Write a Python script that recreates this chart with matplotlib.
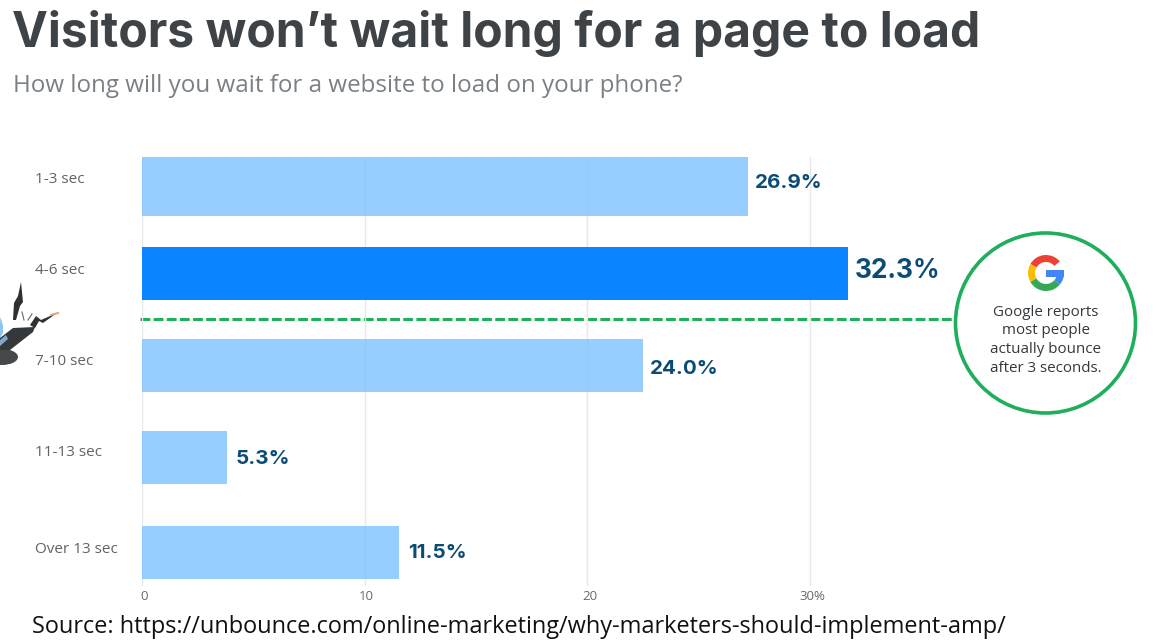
import matplotlib
matplotlib.use('Agg')
import matplotlib.pyplot as plt
from matplotlib.patches import Wedge, Polygon, Rectangle, Ellipse

categories = ['1-3 sec', '4-6 sec', '7-10 sec', '11-13 sec', 'Over 13 sec']
# bar lengths as drawn, they do not quite agree with the printed labels
bar_lengths = [27.2, 31.7, 22.5, 3.8, 11.55]
value_labels = ['26.9%', '32.3%', '24.0%', '5.3%', '11.5%']
x_ticks = [0, 10, 20, 30]
x_tick_labels = ['0', '10', '20', '30%']

W, H = 1160, 644
fig = plt.figure(figsize=(W / 100, H / 100), dpi=100, facecolor='white')

# overlay in pixel coordinates for the text and the illustrations
bg = fig.add_axes([0, 0, 1, 1])
bg.set_xlim(0, W)
bg.set_ylim(H, 0)
bg.axis('off')

# plot area: x=0 sits at 142px, 22.27px per unit
x0, px_per_unit = 142, 22.27
top, bottom = 157, 586
ax = fig.add_axes([x0 / W, 1 - bottom / H, (W - x0) / W, (bottom - top) / H])
ax.patch.set_alpha(0)
ax.set_xlim(0, (W - x0) / px_per_unit)
ax.set_ylim(bottom, top)
for s in ax.spines.values():
    s.set_visible(False)
ax.set_yticks([])
ax.set_xticks([])

for t in x_ticks:
    ax.axvline(t, color='#e6e8ea', lw=1, zorder=1)

centers = [186.5, 273.5, 365.5, 457.5, 552.5]
heights = [59, 53, 53, 53, 53]
colors = ['#7fc2ff', '#0a84ff', '#7fc2ff', '#7fc2ff', '#7fc2ff']
alphas = [0.8, 1, 0.8, 0.8, 0.8]
label_size = [14.8, 18.9, 14.8, 14.8, 14.8]
label_gap = [7, 7, 7, 9, 9]
label_dy = [-4, -2, 4, 2, 1]
cat_dy = [-7, -3, -4, -5, -3]

for i in range(len(categories)):
    ax.barh(centers[i], bar_lengths[i], height=heights[i], color=colors[i], alpha=alphas[i], zorder=2)
    ax.annotate(value_labels[i], (bar_lengths[i], centers[i]), xytext=(label_gap[i] * 0.72, -label_dy[i] * 0.72),
                textcoords='offset points', va='center', ha='left', family='Inter',
                fontweight='bold', fontsize=label_size[i], color='#0b4c75')
    bg.text(35, centers[i] + cat_dy[i], categories[i], fontsize=11, family='Open Sans', color='#5f6468',
            va='center', ha='left')

for t, lab in zip(x_ticks, x_tick_labels):
    bg.text(x0 + t * px_per_unit + 2, 596, lab, fontsize=9.5, family='Open Sans', color='#666a6e',
            ha='center', va='center')

# dashed cutoff line
bg.plot([140, 955], [319, 319], color='#1fb05a', lw=2.2, dashes=(3.2, 1.1), zorder=5)

# callout circle
bg.add_patch(Ellipse((1045.5, 323), 180, 180, fc='white', ec='#1fae5c', lw=2.6, zorder=6))
callout = ['Google reports', 'most people', 'actually bounce', 'after 3 seconds.']
for yy, line in zip([312, 330, 349, 368], callout):
    bg.text(1045.5, yy, line, fontsize=10.9, family='Open Sans', color='#33383c', ha='center', va='center', zorder=7)

# google G
gx, gy, r, w = 1046, 273, 18, 7
for a1, a2, c in [(40, 150, '#ea4335'), (150, 210, '#fbbc05'), (210, 320, '#34a853'), (320, 360, '#4285f4')]:
    # y axis is flipped so the angles are negated
    bg.add_patch(Wedge((gx, gy), r, -a2, -a1, width=w, fc=c, ec='none', zorder=7))
bg.add_patch(Rectangle((gx, gy - 3.5), 18, 7, fc='#4285f4', ec='none', zorder=7))

# phone illustration at the left edge
bg.add_patch(Polygon([(0, 317), (3, 325), (3, 333), (0, 338)], fc='#8fc4ee', ec='none'))
bg.add_patch(Ellipse((2, 357), 32, 16, fc='#46484a', ec='none'))
bg.add_patch(Polygon([(0, 338), (13, 328), (35, 327), (33, 332), (10, 350), (0, 350)], fc='#35383b', ec='none'))
bg.add_patch(Polygon([(0, 340), (6, 335), (8, 339), (0, 346)], fc='#7fa9cc', ec='none'))
bg.add_patch(Polygon([(13, 320), (14, 303), (18, 296), (21, 282), (23, 302), (20, 306), (16, 320)],
                     fc='#2f3033', ec='none'))
bg.add_patch(Polygon([(30, 325), (36, 316), (41, 320), (57, 313), (43, 323), (39, 321), (35, 328)],
                     fc='#2f3033', ec='none'))
bg.plot([51, 58], [315, 313], color='#e8a27a', lw=1.5)
bg.plot([22, 24], [312, 320], color='#666666', lw=0.8)
bg.plot([28, 32], [320, 314], color='#666666', lw=0.8)

# title block
bg.text(12, 33, 'Visitors won\u2019t wait long for a page to load', fontsize=34.6, family='Inter',
        fontweight='bold', color='#3e4347', va='center', ha='left')
bg.text(13, 86, 'How long will you wait for a website to load on your phone?', fontsize=17.4, family='Open Sans',
        color='#7b8085', va='center', ha='left')
bg.text(32, 627, 'Source: https://unbounce.com/online-marketing/why-marketers-should-implement-amp/', fontsize=16.9,
        family='Open Sans', color='#111111', va='center', ha='left')

fig.savefig('out.png', dpi=100)
